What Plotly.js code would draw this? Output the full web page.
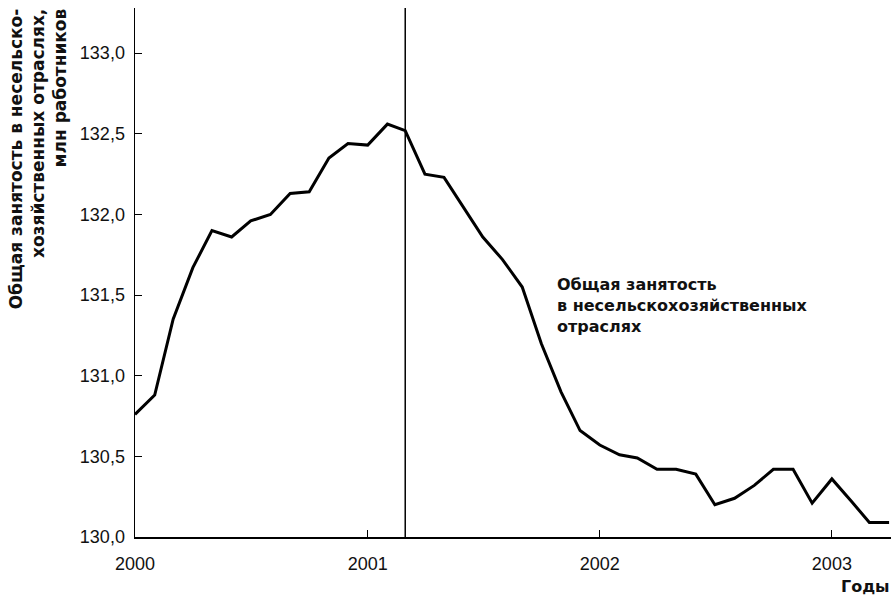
<!DOCTYPE html>
<html>
<head>
<meta charset="utf-8">
<script src="https://cdn.plot.ly/plotly-3.0.1.min.js"></script>
<style>html,body{margin:0;padding:0;background:#fff;}#chart{width:893px;height:598px;}</style>
</head>
<body>
<div id="chart"></div>
<script>
// Monthly dates, Jan 2000 – Apr 2003
const months = [
  '2000-01-01','2000-02-01','2000-03-01','2000-04-01','2000-05-01','2000-06-01','2000-07-01','2000-08-01','2000-09-01','2000-10-01','2000-11-01','2000-12-01',
  '2001-01-01','2001-02-01','2001-03-01','2001-04-01','2001-05-01','2001-06-01','2001-07-01','2001-08-01','2001-09-01','2001-10-01','2001-11-01','2001-12-01',
  '2002-01-01','2002-02-01','2002-03-01','2002-04-01','2002-05-01','2002-06-01','2002-07-01','2002-08-01','2002-09-01','2002-10-01','2002-11-01','2002-12-01',
  '2003-01-01','2003-02-01','2003-03-01','2003-04-01'
];
// Total nonfarm employment, million workers
const employment = [
  130.76,130.88,131.35,131.67,131.90,131.86,131.96,132.00,132.13,132.14,132.35,132.44,
  132.43,132.56,132.52,132.25,132.23,132.04,131.86,131.72,131.55,131.20,130.90,130.66,
  130.57,130.51,130.49,130.42,130.42,130.39,130.20,130.24,130.32,130.42,130.42,130.21,
  130.36,130.22,130.09,130.09
];
const peakDate = '2001-03-01';
const yTitle = 'Общая занятость в несельско-<br>хозяйственных отраслях,<br>млн работников';
const seriesLabel = 'Общая занятость<br>в несельскохозяйственных<br>отраслях';
const xTitle = 'Годы';

const FONT = 'Liberation Sans, Arial, sans-serif';
const BOLD = 'DejaVu Sans, Liberation Sans, sans-serif';

const trace = {
  x: months, y: employment, type: 'scatter', mode: 'lines',
  line: {color: '#000', width: 3}, hoverinfo: 'skip'
};

const layout = {
  width: 893, height: 598,
  margin: {l: 135, r: 2, t: 8, b: 61},
  paper_bgcolor: '#fff', plot_bgcolor: '#fff',
  separators: ', ',
  showlegend: false,
  font: {family: FONT, color: '#111', size: 18},
  xaxis: {
    type: 'date', range: ['2000-01-01', '2003-04-04'],
    tick0: '2000-01-01', dtick: 'M12', tickformat: '%Y',
    ticks: 'inside', ticklen: 7, tickwidth: 1, tickcolor: '#000',
    showline: true, linecolor: '#000', linewidth: 1.5,
    showgrid: false, zeroline: false,
    tickfont: {family: FONT, size: 18, color: '#111'},
    ticklabelstandoff: 10
  },
  yaxis: {
    range: [130, 133.28], tick0: 130, dtick: 0.5, tickformat: '.1f',
    ticks: 'inside', ticklen: 7, tickwidth: 1, tickcolor: '#000',
    showline: true, linecolor: '#000', linewidth: 1.5,
    showgrid: false, zeroline: false,
    tickfont: {family: FONT, size: 18, color: '#111'},
    ticklabelstandoff: 5
  },
  shapes: [{
    type: 'line', xref: 'x', yref: 'paper', x0: peakDate, x1: peakDate, y0: 0, y1: 1,
    line: {color: '#000', width: 1.5}
  }],
  annotations: [
    {
      text: yTitle, xref: 'paper', yref: 'paper', x: -0.1733, y: 1.004,
      xanchor: 'left', yanchor: 'top', textangle: -90, align: 'right', showarrow: false,
      font: {family: BOLD, size: 17, color: '#111', weight: 'bold'}
    },
    {
      text: seriesLabel, xref: 'paper', yref: 'paper', x: 0.5556, y: 0.499,
      xanchor: 'left', yanchor: 'top', align: 'left', showarrow: false,
      font: {family: BOLD, size: 16, color: '#111', weight: 'bold'}
    },
    {
      text: xTitle, xref: 'paper', yref: 'paper', x: 1.0, y: -0.0945,
      xanchor: 'right', yanchor: 'middle', showarrow: false, borderpad: 0,
      font: {family: BOLD, size: 16, color: '#111', weight: 'bold'}
    }
  ]
};

Plotly.newPlot('chart', [trace], layout, {staticPlot: true, displayModeBar: false});
</script>
</body>
</html>
